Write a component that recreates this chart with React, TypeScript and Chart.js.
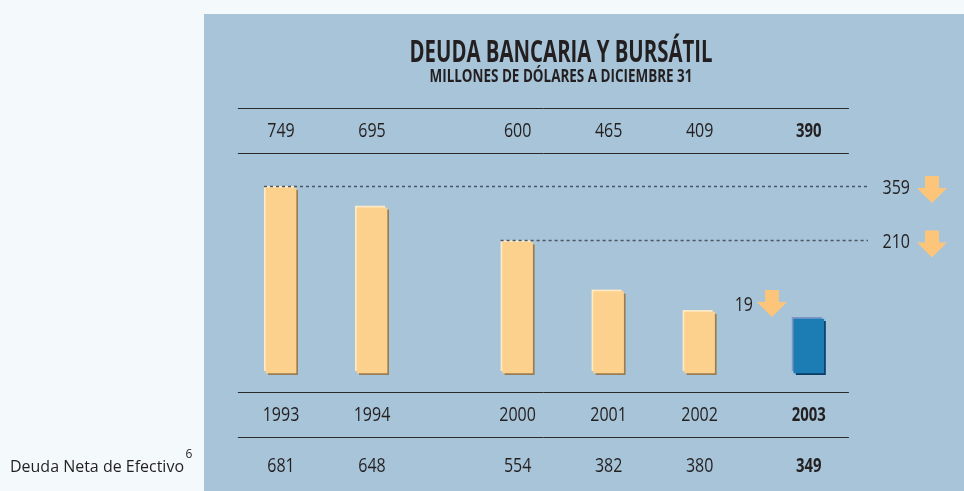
import React, { useEffect, useRef } from "react";
import { Chart, registerables } from "chart.js";

Chart.register(...registerables);

// ---- data ----
const YEARS = ["1993", "1994", "2000", "2001", "2002", "2003"];
const DEUDA = [749, 695, 600, 465, 409, 390]; // Deuda bancaria y bursátil
const NETA = [681, 648, 554, 382, 380, 349]; // Deuda neta de efectivo
const TITLE = "DEUDA BANCARIA Y BURSÁTIL";
const SUBTITLE = "MILLONES DE DÓLARES A DICIEMBRE 31";
const ROW_LABEL = "Deuda Neta de Efectivo";
const ROW_NOTE = "6";

// ---- layout (not data) ----
const SLOT = [0, 5, 13, 18, 23, 29];
const FONT = "'Open Sans', 'Noto Sans', sans-serif";
const SQUEEZE = 0.8;

const W = 964;
const H = 491;

function drawArrow(ctx: CanvasRenderingContext2D, cx: number, top: number) {
  ctx.fillStyle = "#FDC57A";
  ctx.beginPath();
  ctx.moveTo(cx - 7, top);
  ctx.lineTo(cx + 7, top);
  ctx.lineTo(cx + 7, top + 12);
  ctx.lineTo(cx + 15, top + 12);
  ctx.lineTo(cx, top + 27);
  ctx.lineTo(cx - 15, top + 12);
  ctx.lineTo(cx - 7, top + 12);
  ctx.closePath();
  ctx.fill();
}

function scaledText(
  ctx: CanvasRenderingContext2D,
  text: string,
  x: number,
  y: number,
  sx: number,
  align: CanvasTextAlign
) {
  ctx.save();
  ctx.translate(x, y);
  ctx.scale(sx, 1);
  ctx.textAlign = align;
  ctx.fillText(text, 0, 0);
  ctx.restore();
}

function fitText(
  ctx: CanvasRenderingContext2D,
  text: string,
  cx: number,
  y: number,
  width: number
) {
  const m = ctx.measureText(text).width;
  scaledText(ctx, text, cx, y, width / m, "center");
}

const decor = {
  id: "decor",
  beforeDraw(chart: any) {
    const ctx = chart.ctx as CanvasRenderingContext2D;
    ctx.save();
    ctx.fillStyle = "#F4F9FC";
    ctx.fillRect(0, 0, W, H);
    ctx.fillStyle = "#A7C4D8";
    ctx.fillRect(204, 14, W - 204, H - 14);
    ctx.restore();
  },
  beforeDatasetsDraw(chart: any) {
    const ctx = chart.ctx as CanvasRenderingContext2D;
    const meta = chart.getDatasetMeta(0);
    ctx.save();
    meta.data.forEach((el: any, i: number) => {
      const { x, y, base, width } = el.getProps(["x", "y", "base", "width"], true);
      const last = i === meta.data.length - 1;
      ctx.fillStyle = last ? "#0C3C66" : "#9A7C52";
      ctx.fillRect(x - width / 2 + 2, y + 2, width, base - y);
      ctx.fillStyle = last ? "#7C97C6" : "#FFEAC4";
      ctx.fillRect(x - width / 2 - 2, y - 2, width, base - y);
    });
    ctx.restore();
  },
  afterDatasetsDraw(chart: any) {
    const ctx = chart.ctx as CanvasRenderingContext2D;
    const area = chart.chartArea;
    const meta = chart.getDatasetMeta(0);
    const bars = meta.data.map((el: any) =>
      el.getProps(["x", "y", "base", "width"], true)
    );
    const n = bars.length;
    ctx.save();

    // title
    ctx.fillStyle = "#231F20";
    ctx.textBaseline = "alphabetic";
    ctx.font = `bold 31px ${FONT}`;
    fitText(ctx, TITLE, 561, 62, 303);
    ctx.font = `bold 17px ${FONT}`;
    fitText(ctx, SUBTITLE, 561, 82, 263);

    // horizontal rules
    const x0 = area.left - 34;
    const x1 = area.right + 31;
    const rules = [area.top - 45, area.top, area.bottom + 19, area.bottom + 64];
    ctx.strokeStyle = "#2A2A2A";
    ctx.lineWidth = 1;
    rules.forEach((ry) => {
      ctx.beginPath();
      ctx.moveTo(x0, Math.round(ry) + 0.5);
      ctx.lineTo(x1, Math.round(ry) + 0.5);
      ctx.stroke();
    });

    // rows of text
    ctx.textBaseline = "middle";
    bars.forEach((b: any, i: number) => {
      const bold = i === n - 1;
      ctx.font = `${bold ? "bold " : ""}20px ${FONT}`;
      const sx = bold ? SQUEEZE * 0.93 : SQUEEZE;
      scaledText(ctx, String(DEUDA[i]), b.x, area.top - 22, sx, "center");
      scaledText(ctx, YEARS[i], b.x, area.bottom + 42, sx, "center");
      scaledText(ctx, String(NETA[i]), b.x, area.bottom + 93, sx, "center");
    });

    // row label outside panel
    ctx.font = `16px ${FONT}`;
    const lw = ctx.measureText(ROW_LABEL).width;
    const lsx = 174 / lw;
    scaledText(ctx, ROW_LABEL, 10, area.bottom + 94, lsx, "left");
    ctx.font = `12px ${FONT}`;
    scaledText(ctx, ROW_NOTE, 10 + 174 + 1.5, area.bottom + 82, 1, "left");

    // dotted reference lines with reductions
    const last = DEUDA[n - 1];
    const refs = [0, 2];
    ctx.strokeStyle = "#4B5563";
    ctx.lineWidth = 1.5;
    ctx.setLineDash([3, 3]);
    refs.forEach((idx) => {
      const b = bars[idx];
      const yy = Math.round(b.y - 2) + 0.5;
      ctx.beginPath();
      ctx.moveTo(b.x - b.width / 2 - 2, yy);
      ctx.lineTo(868, yy);
      ctx.stroke();
    });
    ctx.setLineDash([]);
    ctx.font = `20px ${FONT}`;
    refs.forEach((idx) => {
      const b = bars[idx];
      const yy = b.y - 2;
      ctx.fillStyle = "#231F20";
      scaledText(ctx, String(DEUDA[idx] - last), 910, yy + 2, SQUEEZE, "right");
      drawArrow(ctx, 932, yy - 10);
    });

    // small reduction between last two bars
    const bp = bars[n - 1];
    ctx.fillStyle = "#231F20";
    scaledText(ctx, String(DEUDA[n - 2] - last), 753, bp.y - 14, SQUEEZE, "right");
    drawArrow(ctx, 772, bp.y - 29);

    ctx.restore();
  },
};

export default function App() {
  const ref = useRef<HTMLCanvasElement | null>(null);
  useEffect(() => {
    if (!ref.current) return;
    const colors = DEUDA.map((_, i) => (i === DEUDA.length - 1 ? "#1C7CB4" : "#FCD08D"));
    const chart = new Chart(ref.current, {
      type: "bar",
      data: {
        datasets: [
          {
            data: YEARS.map((_, i) => ({ x: SLOT[i], y: DEUDA[i] })),
            backgroundColor: colors,
            borderWidth: 0,
            barThickness: 30,
            base: 242,
            clip: false,
          },
        ],
      },
      options: {
        animation: false,
        responsive: false,
        devicePixelRatio: 1,
        layout: { padding: { left: 271.9, right: 146.1, top: 153, bottom: 118 } },
        scales: {
          x: { type: "linear", min: -0.5, max: 29.5, offset: false, display: false },
          y: { min: 242, max: 845, display: false },
        },
        plugins: { legend: { display: false }, tooltip: { enabled: false } },
      },
      plugins: [decor],
    } as any);
    return () => chart.destroy();
  }, []);
  return (
    <div style={{ position: "fixed", left: 0, top: 0, width: W, height: H }}>
      <canvas ref={ref} width={W} height={H} style={{ width: W, height: H }} />
    </div>
  );
}
